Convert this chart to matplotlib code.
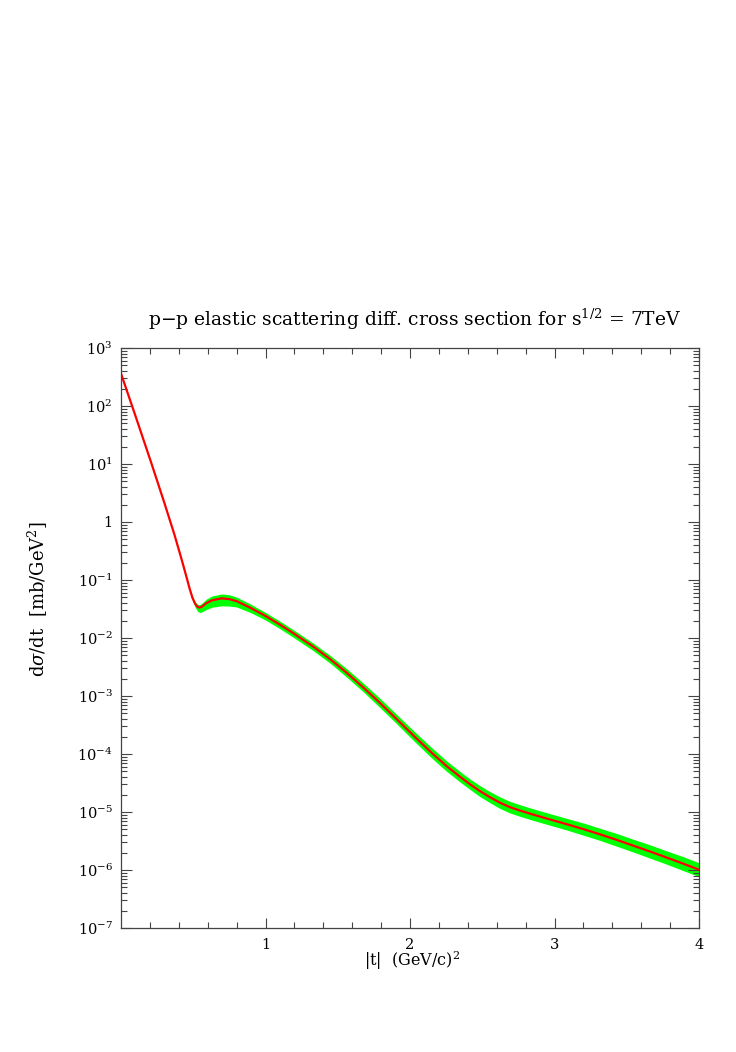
import numpy as np
import matplotlib
matplotlib.use("Agg")
import matplotlib.pyplot as plt
from matplotlib.ticker import LogLocator, FixedLocator, NullFormatter, FuncFormatter

plt.rcParams['font.family'] = ['DejaVu Serif']
plt.rcParams['mathtext.fontset'] = 'dejavuserif'

# |t| in (GeV/c)^2 and log10 of dsigma/dt in mb/GeV^2
t_vals = [0.00, 0.10, 0.212, 0.30, 0.37, 0.42, 0.45, 0.475, 0.495, 0.513,
          0.53, 0.545, 0.56, 0.59, 0.63, 0.697, 0.75, 0.80, 0.90, 1.00,
          1.10, 1.20, 1.331, 1.45, 1.562, 1.68, 1.792, 1.90, 2.023, 2.15,
          2.254, 2.35, 2.42, 2.484, 2.55, 2.623, 2.69, 2.761, 2.853, 2.95,
          3.084, 3.20, 3.315, 3.43, 3.545, 3.66, 3.776, 3.89, 4.00]
log_dsig = [2.56, 1.83, 1.00, 0.33, -0.22, -0.65, -0.92, -1.15, -1.31, -1.41,
            -1.465, -1.475, -1.46, -1.40, -1.35, -1.316, -1.33, -1.365, -1.485, -1.62,
            -1.77, -1.93, -2.15, -2.37, -2.60, -2.86, -3.12, -3.38, -3.68, -3.98,
            -4.21, -4.40, -4.53, -4.64, -4.74, -4.84, -4.915, -4.975, -5.045, -5.115,
            -5.21, -5.295, -5.385, -5.48, -5.58, -5.68, -5.785, -5.89, -5.995]
# band half-widths (decades) above / below the central curve
band_up = [0.01, 0.01, 0.01, 0.01, 0.01, 0.015, 0.02, 0.02, 0.025, 0.035,
           0.045, 0.05, 0.06, 0.07, 0.075, 0.075, 0.075, 0.07, 0.065, 0.06,
           0.06, 0.06, 0.06, 0.065, 0.07, 0.075, 0.08, 0.08, 0.085, 0.09,
           0.09, 0.09, 0.09, 0.095, 0.095, 0.10, 0.10, 0.10, 0.10, 0.10,
           0.10, 0.105, 0.105, 0.11, 0.11, 0.115, 0.115, 0.12, 0.12]
band_dn = [0.01, 0.01, 0.01, 0.01, 0.01, 0.015, 0.02, 0.03, 0.04, 0.06,
           0.075, 0.085, 0.09, 0.11, 0.12, 0.13, 0.12, 0.10, 0.08, 0.07,
           0.07, 0.07, 0.07, 0.07, 0.075, 0.075, 0.08, 0.08, 0.085, 0.09,
           0.09, 0.09, 0.09, 0.095, 0.095, 0.10, 0.10, 0.10, 0.10, 0.10,
           0.10, 0.105, 0.105, 0.11, 0.11, 0.115, 0.115, 0.12, 0.12]

x_major = [1, 2, 3, 4]
title = r"p$-$p elastic scattering diff. cross section for s$^{1/2}$ = 7TeV"
xlabel = r"|t|  (GeV/c)$^2$"
ylabel = r"d$\sigma$/dt  [mb/GeV$^2$]"

t = np.array(t_vals)
central = 10.0 ** np.array(log_dsig)
upper = 10.0 ** (np.array(log_dsig) + np.array(band_up))
lower = 10.0 ** (np.array(log_dsig) - np.array(band_dn))

W, H = 736, 1052
fig = plt.figure(figsize=(W / 100, H / 100), dpi=100)
ax = fig.add_axes([121 / W, 1 - 928 / H, 578 / W, 580 / H])

ax.fill_between(t, lower, upper, color='#00ff00', lw=0)
ax.plot(t, central, color='#ff0000', lw=1.6)

ax.set_yscale('log')
ax.set_xlim(0, 4)
ax.set_ylim(1e-7, 1e3)

ax.xaxis.set_major_locator(FixedLocator(x_major))
ax.xaxis.set_minor_locator(FixedLocator(np.arange(0.2, 4.0, 0.2)))
ax.yaxis.set_major_locator(LogLocator(base=10, numticks=20))
ax.yaxis.set_minor_locator(LogLocator(base=10, subs=np.arange(2, 10), numticks=20))
ax.yaxis.set_minor_formatter(NullFormatter())


def ylab(v, pos):
    e = int(round(np.log10(v)))
    if e == 0:
        return "1"
    return r"$10^{%d}$" % e


ax.yaxis.set_major_formatter(FuncFormatter(ylab))
ax.xaxis.set_major_formatter(FuncFormatter(lambda v, p: "%d" % v))

ax.tick_params(which='both', direction='in', top=True, right=True,
               color='#444444', width=0.8, labelsize=10.5)
ax.tick_params(axis='y', which='major', length=8, pad=6)
ax.tick_params(axis='y', which='minor', length=4.5)
ax.tick_params(axis='x', which='major', length=7.5, pad=7)
ax.tick_params(axis='x', which='minor', length=4)
for s in ax.spines.values():
    s.set_color('#444444')
    s.set_linewidth(0.9)

fig.text(415 / W, 1 - 326 / H, title, ha='center', va='baseline', fontsize=13.5)
fig.text(412 / W, 1 - 961 / H, xlabel, ha='center', va='center', fontsize=11.5)
fig.text(38 / W, 1 - 599 / H, ylabel, ha='center', va='center', rotation=90,
         fontsize=13)

fig.savefig("out.png", dpi=100)
